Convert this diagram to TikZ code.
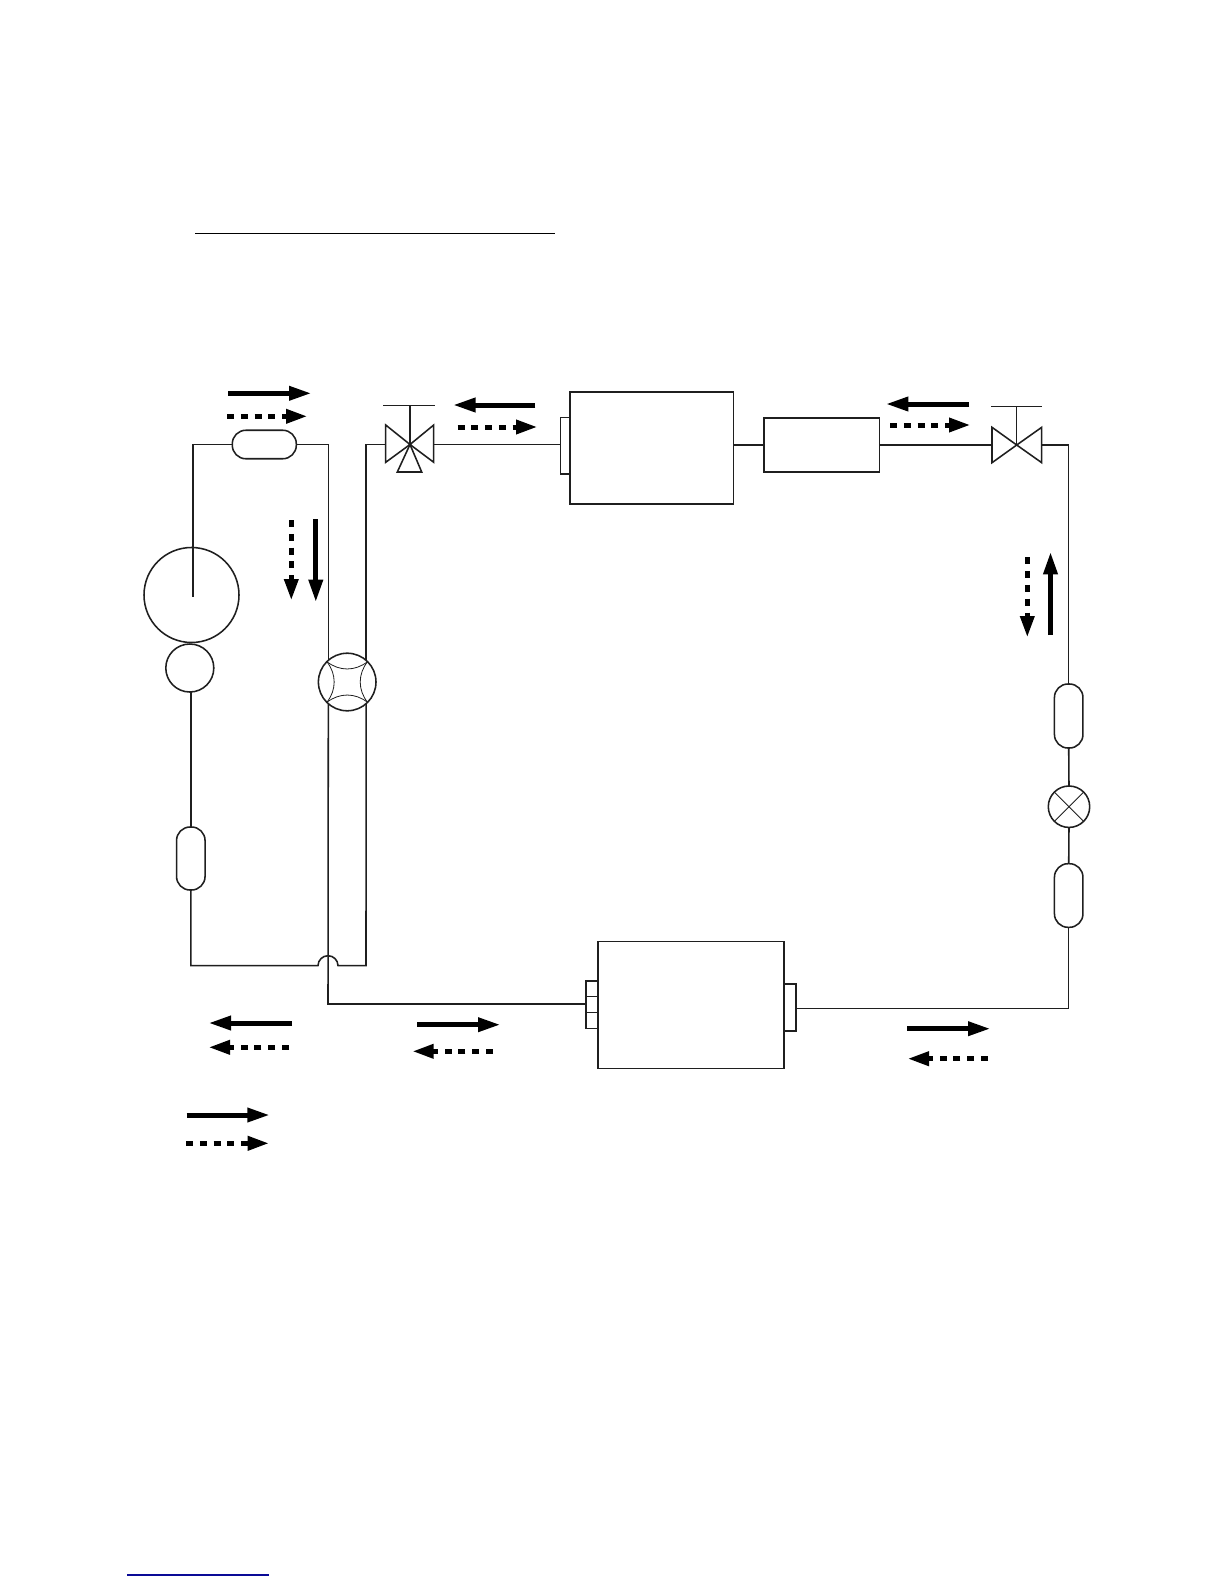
\documentclass[tikz,border=0pt]{standalone}
\usetikzlibrary{arrows.meta}
\definecolor{pipecol}{HTML}{1F1F1F}
\definecolor{footblue}{HTML}{0A0A96}
\newcommand{\flowarrow}[4]{%
  \coordinate (#1-a) at (#3);
  \coordinate (#1-b) at (#4);
  \draw[#2] (#1-a) -- (#1-b);
}
\tikzset{
  x=1pt,y=-1pt,
  pipe/.style={draw=pipecol,line width=1.55pt,line join=miter},
  thinpipe/.style={draw=pipecol,line width=0.8pt},
  boxpart/.style={pipe,rectangle,inner sep=0pt,outer sep=0pt,fill=white},
  ballpart/.style={pipe,circle,inner sep=0pt,outer sep=0pt,fill=white},
  capsule/.style={pipe,rectangle,inner sep=0pt,outer sep=0pt,fill=white,rounded corners=13.5pt},
  flowsolid/.style={black,line width=5pt,shorten >=-1.5pt,-{Triangle[length=22.5pt,width=13.5pt]}},
  flowdash/.style={black,line width=5pt,shorten >=-1.5pt,dash pattern=on 7pt off 6.8pt,-{Triangle[length=21.5pt,width=13.5pt]}},
}
\begin{document}
\begin{tikzpicture}
\useasboundingbox[fill=white] (0,0) rectangle (1224,1584);

% rules
\coordinate (ruleA) at (195,233.3);
\coordinate (ruleB) at (554.5,233.3);
\draw[black,line width=0.9pt] (ruleA) -- (ruleB);
\coordinate (footA) at (127,1575);
\coordinate (footB) at (269,1575);
\draw[footblue,line width=1.1pt] (footA) -- (footB);

% components
\node[capsule,minimum width=64pt,minimum height=28.5pt] (rcvTop) at (264.3,444.5) {};
\node[capsule,minimum width=28.5pt,minimum height=63pt] (rcvLeft) at (190.8,858.5) {};
\node[capsule,minimum width=28.5pt,minimum height=64pt] (rcvR1) at (1068.7,716) {};
\node[capsule,minimum width=28.5pt,minimum height=63.6pt] (rcvR2) at (1068.7,895.5) {};
\node[ballpart,minimum size=95pt] (bigBall) at (191.5,595) {};
\node[ballpart,minimum size=48pt] (smallBall) at (189.8,668) {};
\node[ballpart,minimum size=57.6pt] (four) at (347.2,682) {};
\node[ballpart,minimum size=41.4pt] (exv) at (1069,806.7) {};
\node[boxpart,minimum width=163.7pt,minimum height=112pt] (upperBox) at (651.85,448) {};
\node[boxpart,minimum width=9.3pt,minimum height=56.3pt] (upperTab) at (565.35,445.85) {};
\node[boxpart,minimum width=115.6pt,minimum height=54pt] (midBox) at (821.6,444.9) {};
\node[boxpart,minimum width=186pt,minimum height=127pt] (lowerBox) at (691.1,1005) {};
\node[boxpart,minimum width=12pt,minimum height=47.6pt] (lowerTabL) at (592,1004.6) {};
\node[boxpart,minimum width=12pt,minimum height=47pt] (lowerTabR) at (790.2,1007.7) {};

% lower-left tab dividers
\draw[pipe] (lowerTabL.west |- 0,996.7) coordinate (tabA) -- (lowerTabL.east |- 0,996.7) coordinate (tabB);
\draw[thinpipe] (lowerTabL.west |- 0,1012.3) coordinate (tabC) -- (lowerTabL.east |- 0,1012.3) coordinate (tabD);

% expansion valve cross
\draw[thinpipe] (exv.45) -- (exv.225);
\draw[thinpipe] (exv.135) -- (exv.315);

% four-way valve inner arcs
\draw[thinpipe] (four.135) to[bend right=38] (four.45);
\draw[thinpipe] (four.225) to[bend left=38] (four.315);
\draw[thinpipe] (four.135) to[bend left=38] (four.225);
\draw[thinpipe] (four.45) to[bend right=38] (four.315);

% three-way valve
\coordinate (tvC) at (410,444.5);
\coordinate (tvW) at (385.7,444.5);
\coordinate (tvE) at (433.7,444.5);
\coordinate (tvTop) at (410,405.3);
\draw[pipe] (tvW |- 0,425) -- (tvC) -- (tvW |- 0,462.3) -- cycle;
\draw[pipe] (tvE |- 0,425) -- (tvC) -- (tvE |- 0,462.3) -- cycle;
\draw[pipe] (tvC) -- (397.3,472) -- (421.7,472) -- cycle;
\draw[pipe] (tvC) -- (tvTop);
\draw[thinpipe,line width=1pt] (383.3,405.3) coordinate (tvBarA) -- (435.3,405.3) coordinate (tvBarB);

% two-way valve
\coordinate (svC) at (1016.7,445);
\coordinate (svW) at (992,445);
\coordinate (svE) at (1041.7,445);
\coordinate (svTop) at (1016.7,406.7);
\draw[pipe] (svW |- 0,427.3) -- (svC) -- (svW |- 0,462.7) -- cycle;
\draw[pipe] (svE |- 0,427.3) -- (svC) -- (svE |- 0,462.7) -- cycle;
\draw[pipe] (svC) -- (svTop);
\draw[thinpipe,line width=1pt] (991.3,406.7) coordinate (svBarA) -- (1042,406.7) coordinate (svBarB);

% pipework
\coordinate (discharge) at (193,597);
\coordinate (cornerBL) at (190.9,965.7);
\coordinate (cornerBR) at (366,965.7);
\coordinate (cornerLow) at (328,1004);
\coordinate (cornerR) at (1068,1008.5);
\draw[pipe] (rcvTop.west) -| (discharge);
\draw[pipe] (rcvTop.east) -| (four.131);
\draw[pipe] (four.229) -- (cornerLow) -- (lowerTabL.west |- cornerLow);
\draw[pipe] (tvW) -| (four.49);
\draw[pipe] (four.311) -- (cornerBR) -- (338,965.7) arc[start angle=0,end angle=180,radius=10pt] -- (cornerBL) -- (rcvLeft.south -| cornerBL);
\draw[pipe] (rcvLeft.north) -- (rcvLeft.north |- smallBall.south);
\draw[pipe] (tvE) -- (upperTab.west |- tvE);
\draw[pipe] (upperBox.east |- midBox.west) -- (midBox.west);
\draw[pipe] (midBox.east) -- (svW |- midBox.east);
\draw[pipe] (svE) -| (rcvR1.north);
\draw[pipe] (rcvR1.south) -- (exv.north);
\draw[pipe] (exv.south) -- (rcvR2.north);
\draw[pipe] (rcvR2.south) |- (lowerTabR.east |- cornerR);

% flow arrows
\flowarrow{fa}{flowsolid}{228,393.3}{310,393.3}
\flowarrow{fb}{flowdash}{227,416.3}{306,416.3}
\flowarrow{fc}{flowdash}{291.3,520}{291.3,599}
\flowarrow{fd}{flowsolid}{315.8,519}{315.8,600.7}
\flowarrow{fe}{flowsolid}{535.3,405}{454.5,405}
\flowarrow{ff}{flowdash}{457.5,427}{536,427}
\flowarrow{fg}{flowsolid}{969,404}{887.3,404}
\flowarrow{fh}{flowdash}{890,425}{969,425}
\flowarrow{fi}{flowdash}{1027.3,557.3}{1027.3,636}
\flowarrow{fj}{flowsolid}{1050.5,635}{1050.5,553.3}
\flowarrow{fk}{flowsolid}{292,1023}{210,1023}
\flowarrow{fl}{flowdash}{289,1047.3}{210,1047.3}
\flowarrow{fm}{flowsolid}{417,1024.7}{499,1024.7}
\flowarrow{fn}{flowdash}{493,1051.3}{413.7,1051.3}
\flowarrow{fo}{flowsolid}{907,1028.7}{989,1028.7}
\flowarrow{fp}{flowdash}{988,1058.7}{909,1058.7}
\flowarrow{fq}{flowsolid}{186.7,1115}{268.3,1115}
\flowarrow{fr}{flowdash}{186,1143.3}{267.7,1143.3}
\end{tikzpicture}
\end{document}
